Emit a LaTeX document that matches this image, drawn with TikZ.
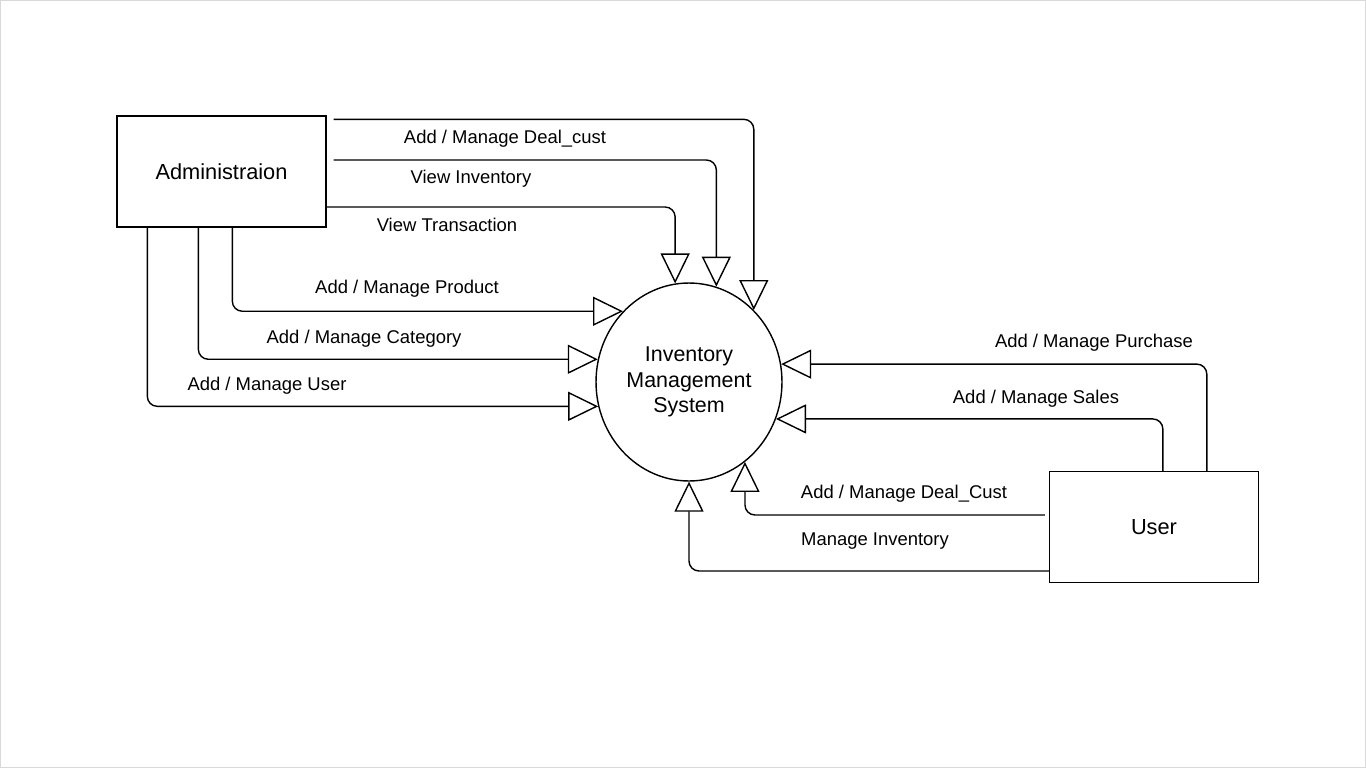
\documentclass[tikz,border=0pt]{standalone}
\usepackage{fontspec}
\setmainfont{Liberation Sans}
\usetikzlibrary{arrows.meta,shapes}

\begin{document}
\begin{tikzpicture}[x=0.02cm,y=-0.02cm,line width=0.8pt,
	ent/.style={rectangle,draw,minimum width=4.18cm,minimum height=2.22cm,font=\fontsize{12.4}{15}\selectfont},
	proc/.style={ellipse,draw,minimum width=3.72cm,minimum height=3.96cm,inner sep=0pt,align=center,font=\fontsize{12.2}{14.7}\selectfont},
	flow/.style={draw,rounded corners=0.2cm,-{Triangle[open,length=0.6cm,width=0.58cm]}},
	lbl/.style={anchor=base,inner sep=0pt,font=\fontsize{10.5}{12}\selectfont}]
\useasboundingbox (0,0) rectangle (1366,768);
\draw[gray!30] (0.5,0.5) rectangle (1365.5,767.5);

\node [ent] (adm) at (221.5,171.5) {Administraion};
\node [proc] (ims) at (689,382) {Inventory\\Management\\System};
\node [ent] (usr) at (1154,527) {User};

\draw [flow] ([shift={(7,4)}]adm.north east) -| (ims.48);
\draw [flow] ([shift={(7,-11.5)}]adm.east) -| (ims.74);
\draw [flow] ([shift={(0,35.5)}]adm.east) -| (ims.98);
\draw [flow] ([shift={(116,0)}]adm.south west) |- (ims.133);
\draw [flow] ([shift={(82,0)}]adm.south west) |- (ims.166);
\draw [flow] ([shift={(31,0)}]adm.south west) |- (ims.195);
\draw [flow] ([shift={(158,0)}]usr.north west) |- (ims.11);
\draw [flow] ([shift={(114,0)}]usr.north west) |- (ims.337);
\draw [flow] ([shift={(-4,-12)}]usr.west) -| (ims.305);
\draw [flow] ([shift={(0,44)}]usr.west) -| (ims.south);

\node [lbl] (t1) at (505,143) {Add / Manage Deal\_cust};
\node [lbl] (t2) at (471,183) {View Inventory};
\node [lbl] (t3) at (447,231) {View Transaction};
\node [lbl] (t4) at (407,293) {Add / Manage Product};
\node [lbl] (t5) at (364,343) {Add / Manage Category};
\node [lbl] (t6) at (267,390) {Add / Manage User};
\node [lbl] (t7) at (1094,347) {Add / Manage Purchase};
\node [lbl] (t8) at (1036,403) {Add / Manage Sales};
\node [lbl] (t9) at (904,498) {Add / Manage Deal\_Cust};
\node [lbl] (t10) at (875,545) {Manage Inventory};
\end{tikzpicture}
\end{document}
